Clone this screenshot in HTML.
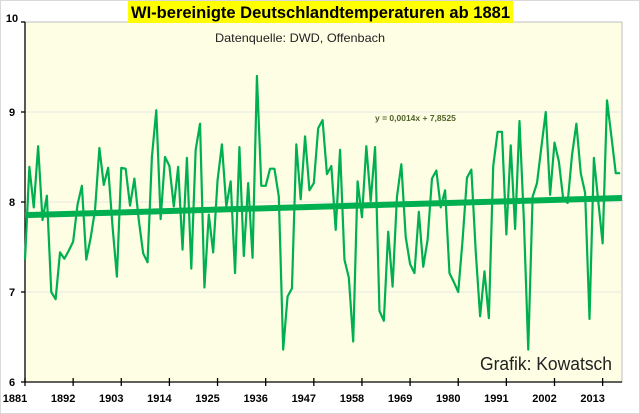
<!DOCTYPE html>
<html><head><meta charset="utf-8"><style>
html,body{margin:0;padding:0;background:#fff;}
svg{display:block;font-family:"Liberation Sans",Arial,sans-serif;}
</style></head><body>
<svg id="chart" width="640" height="414" viewBox="0 0 640 414">
<rect x="0.5" y="0.5" width="639" height="413" fill="#fff" stroke="#d9d9d9"/>
<rect x="25" y="22" width="597" height="360" fill="#fefee4" stroke="#bfbfbf"/>
<g id="grid"></g>
<g id="axes"></g>
<polyline id="series" fill="none" stroke="#00b050" stroke-width="2.2" stroke-linejoin="round"/>
<line id="trend" stroke="#00b050" stroke-width="6"/>
<rect x="128" y="1" width="385" height="22" fill="#ffff00"/>
<text x="131" y="18" font-size="17" font-weight="bold" fill="#000" textLength="379" lengthAdjust="spacingAndGlyphs">WI-bereinigte Deutschlandtemperaturen ab 1881</text>
<text x="215" y="42" font-size="12" fill="#222" textLength="170" lengthAdjust="spacingAndGlyphs">Datenquelle: DWD, Offenbach</text>
<text x="375" y="121" font-size="8.5" font-weight="bold" fill="#4f6228">y = 0,0014x + 7,8525</text>
<text x="480" y="370" font-size="18" fill="#222" textLength="132" lengthAdjust="spacingAndGlyphs">Grafik: Kowatsch</text>
</svg>
<script>
const years = [];
for (let y = 1881; y <= 2017; y++) years.push(y);
const temps = [7.36,8.39,7.94,8.62,7.8,8.07,7.0,6.92,7.44,7.37,7.46,7.56,7.97,8.18,7.36,7.6,7.91,8.6,8.19,8.38,7.73,7.17,8.38,8.37,7.96,8.26,7.8,7.43,7.33,8.5,9.02,7.81,8.5,8.4,7.95,8.39,7.47,8.49,7.26,8.58,8.87,7.05,7.86,7.44,8.24,8.64,7.95,8.23,7.21,8.61,7.4,8.21,7.38,9.4,8.18,8.18,8.37,8.37,8.06,6.36,6.95,7.04,8.64,8.03,8.73,8.13,8.21,8.82,8.91,8.31,8.4,7.69,8.58,7.36,7.16,6.45,8.23,7.83,8.62,8.01,8.61,6.79,6.68,7.67,7.06,8.06,8.42,7.61,7.31,7.21,7.89,7.28,7.58,8.26,8.35,7.94,8.13,7.21,7.11,7.0,7.58,8.27,8.36,7.45,6.73,7.23,6.71,8.4,8.78,8.78,7.64,8.63,7.7,8.9,7.8,6.36,8.06,8.21,8.61,9.0,8.08,8.66,8.45,8.03,7.99,8.52,8.87,8.32,8.1,6.7,8.49,8.01,7.54,9.13,8.73,8.32,8.32];
const yTicks = [6,7,8,9,10];
const xTickLabels = [1881,1892,1903,1914,1925,1936,1947,1958,1969,1980,1991,2002,2013];
const trendSlope = 0.0014, trendIntercept = 7.8525;

const NS = "http://www.w3.org/2000/svg";
const xs = yr => 25 + (yr - 1881) * 4.376;
const ys = v => 382 - (v - 6) * 90;
const grid = document.getElementById('grid'), axes = document.getElementById('axes');
function mk(tag, attrs, parent){const e=document.createElementNS(NS,tag);for(const k in attrs)e.setAttribute(k,attrs[k]);parent.appendChild(e);return e;}

yTicks.forEach(v => {
  if (v > 6 && v < 10) {
    const g = mk('line',{x1:25,x2:622,y1:ys(v),y2:ys(v),stroke:'#e6e6e6','stroke-width':1},grid);
    
    
  }
  const t = mk('line',{x1:21,x2:25,y1:ys(v),y2:ys(v),stroke:'#000','stroke-width':1.3},axes);
  
  
  const l = mk('text',{x:12,y:ys(v)+ (v===10?0:4),'text-anchor':'middle','font-size':11,'font-weight':'bold'},axes);
  l.textContent = v;
  
  
});
const ya = mk('line',{x1:25,x2:25,y1:22,y2:382,stroke:'#000','stroke-width':1.3},axes);


const xa = mk('line',{x1:25,x2:622,y1:382,y2:382,stroke:'#000','stroke-width':1.3},axes);


xTickLabels.forEach(yr => {
  const t = mk('line',{x1:xs(yr),x2:xs(yr),y1:378,y2:386,stroke:'#000','stroke-width':1.3},axes);
  
  
  const l = mk('text',{x:xs(yr)-10,y:402,'text-anchor':'middle','font-size':11,'font-weight':'bold'},axes);
  l.textContent = yr;
  
  
});
document.getElementById('series').setAttribute('points', temps.map((v,i)=>xs(years[i])+','+ys(v)).join(' '));
const tr = document.getElementById('trend');
const n = temps.length;
tr.setAttribute('x1', xs(years[0])); tr.setAttribute('y1', ys(trendSlope*1+trendIntercept));
tr.setAttribute('x2', 622); tr.setAttribute('y2', ys(trendSlope*n+trendIntercept));
</script>
</body></html>
